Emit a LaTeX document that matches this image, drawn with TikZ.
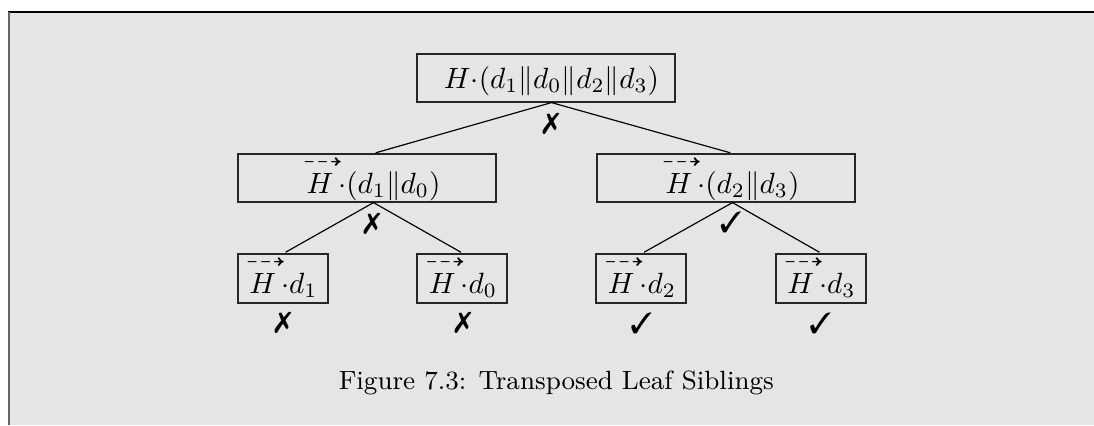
\documentclass[tikz,border=0pt]{standalone}
\usepackage{amsmath,amssymb}
\usepackage{graphicx}
\usepackage{pifont}
\definecolor{bgpanel}{RGB}{229,229,229}
\definecolor{leftrule}{RGB}{100,100,100}
\newcommand{\hv}{\overset{\makebox[0pt]{\hspace{2pt}\scalebox{1.2}[1.05]{$\scriptstyle\dashrightarrow$}}}{H}\,{\cdot}}
\tikzset{
  formula/.style={anchor=base, inner sep=0pt},
  boxwide/.style={draw=black!85, line width=0.4pt, inner sep=0pt, minimum width=88.06pt, minimum height=16.38pt},
  boxleaf/.style={draw=black!85, line width=0.4pt, inner sep=0pt, minimum width=30.72pt, minimum height=16.72pt},
  verdict/.style={inner sep=0pt, font=\normalsize},
  treeline/.style={line width=0.4pt, shorten >=0.8pt}
}
\begin{document}
\begin{tikzpicture}[x=0.3413pt, y=-0.3413pt]
\useasboundingbox (0,0) rectangle (1094,425);
\fill[white] (0,0) rectangle (1094,425);
\fill[bgpanel] (9,12) rectangle (1094,425);
\draw[black, line width=0.35pt] (8,12) -- (1094,12);
\draw[leftrule, line width=0.7pt] (9,12) -- (9,425);

% boxes
\node[boxwide] (b0) at (546,78) {};
\node[boxwide] (b1) at (367,178) {};
\node[boxwide] (b2) at (726,178) {};
\node[boxleaf] (b3) at (283,278.5) {};
\node[boxleaf] (b4) at (462,278.5) {};
\node[boxleaf] (b5) at (641,278.5) {};
\node[boxleaf] (b6) at (821,278.5) {};

% texts
\node[formula] (t0) at (551.5,88) {$H{\cdot}(d_1\|d_0\|d_2\|d_3)$};
\node[formula] (t1) at (373.5,193) {$\hv(d_1\|d_0)$};
\node[formula] (t2) at (732.5,193) {$\hv(d_2\|d_3)$};
\node[formula] (t3) at (283.5,293) {$\hv d_1$};
\node[formula] (t4) at (463,293) {$\hv d_0$};
\node[formula] (t5) at (642,293) {$\hv d_2$};
\node[formula] (t6) at (821.5,293) {$\hv d_3$};

% connectors
\draw[treeline] (b0.south -| t0.base) -- (b1.north -| t1.base);
\draw[treeline] (b0.south -| t0.base) -- (b2.north -| t2.base);
\draw[treeline] (b1.south -| t1.base) -- (b3.north -| t3.base);
\draw[treeline] (b1.south -| t1.base) -- (b4.north -| t4.base);
\draw[treeline] (b2.south -| t2.base) -- (b5.north -| t5.base);
\draw[treeline] (b2.south -| t2.base) -- (b6.north -| t6.base);

% verdicts
\node[verdict] (m0) at (551,123.5) {\ding{55}};
\node[verdict] (m1) at (372,224) {\ding{55}};
\node[verdict] (m2) at (731,222.5) {\ding{51}};
\node[verdict] (m3) at (283,323) {\ding{55}};
\node[verdict] (m4) at (463,323) {\ding{55}};
\node[verdict] (m5) at (641.5,323) {\ding{51}};
\node[verdict] (m6) at (820.5,323) {\ding{51}};

% caption
\node[anchor=base, inner sep=0pt, font=\small] (cap) at (556.3,389.5) {Figure 7.3: Transposed Leaf Siblings};
\end{tikzpicture}
\end{document}
